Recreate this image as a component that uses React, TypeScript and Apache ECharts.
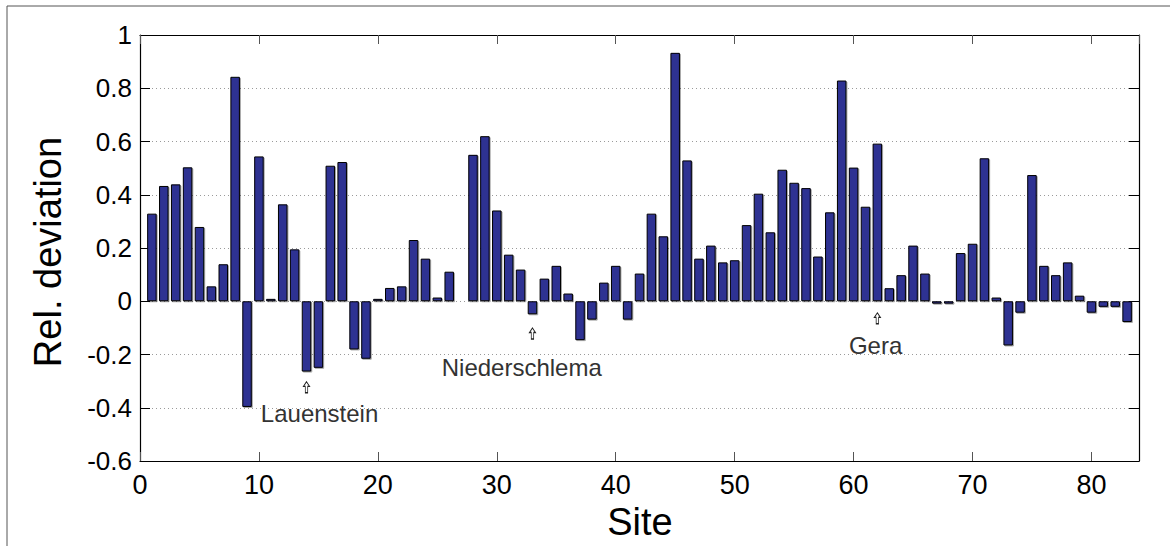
import React, { useEffect, useRef } from "react";
import * as echarts from "echarts";

// Relative deviation per monitoring site (sites 1..83)
const sites: number[] = Array.from({ length: 83 }, (_, i) => i + 1);
const deviations: number[] = [
  0.329, 0.433, 0.439, 0.503, 0.279, 0.056, 0.139, 0.843, -0.397, 0.544,
  0.009, 0.364, 0.195, -0.264, -0.25, 0.509, 0.523, -0.181, -0.216, 0.009,
  0.05, 0.056, 0.23, 0.16, 0.014, 0.111, 0.002, 0.55, 0.62, 0.341,
  0.175, 0.119, -0.049, 0.085, 0.133, 0.029, -0.146, -0.069, 0.07, 0.133,
  -0.069, 0.104, 0.329, 0.244, 0.933, 0.529, 0.16, 0.209, 0.146, 0.154,
  0.286, 0.404, 0.259, 0.494, 0.445, 0.425, 0.168, 0.334, 0.829, 0.502,
  0.355, 0.592, 0.049, 0.098, 0.209, 0.104, -0.009, -0.009, 0.181, 0.216,
  0.537, 0.014, -0.166, -0.043, 0.474, 0.133, 0.098, 0.146, 0.021, -0.043,
  -0.021, -0.021, -0.078,
];

// Named sites marked with an arrow under the bar
const markedNames: string[] = ["Lauenstein", "Niederschlema", "Gera"];
const markedSites: number[] = [14, 33, 62];
const arrowLevels: number[] = [-0.323, -0.121, -0.064];
const labelSites: number[] = [15.1, 32.1, 61.85];
const labelLevels: number[] = [-0.423, -0.248, -0.168];

const xTicks = { min: 0, max: 84, interval: 10 };
const yTicks = { min: -0.6, max: 1, interval: 0.2 };

const ARROW =
  "path://M5,0 L10,5 L7,5 L7,12 L3,12 L3,5 L0,5 Z";

export default function App() {
  const ref = useRef<HTMLDivElement>(null);

  useEffect(() => {
    if (!ref.current) return;
    const chart = echarts.init(ref.current, undefined, { renderer: "svg" });
    const font = "Liberation Sans, Arial, Helvetica, sans-serif";

    const arrowPoints = markedSites.map((s, i) => ({
      coord: [s, arrowLevels[i]],
      symbol: ARROW,
      symbolSize: [6, 11],
      itemStyle: { color: "#ffffff", borderColor: "#222222", borderWidth: 1 },
      label: { show: false },
    }));
    const labelPoints = markedNames.map((n, i) => ({
      name: n,
      coord: [labelSites[i], labelLevels[i]],
      symbol: "circle",
      symbolSize: 0,
      itemStyle: { color: "transparent" },
      label: {
        show: true,
        position: "inside",
        formatter: n,
        fontFamily: font,
        fontSize: 24,
        color: "#333333",
      },
    }));

    chart.setOption({
      animation: false,
      backgroundColor: "#ffffff",
      grid: { left: 140, right: 31, top: 35, bottom: 85, containLabel: false },
      xAxis: [
        {
          type: "value",
          ...xTicks,
          position: "bottom",
          axisLine: { show: true, onZero: false, lineStyle: { color: "#000", width: 1.2 } },
          axisTick: { show: true, inside: true, length: 9, lineStyle: { color: "#555" } },
          axisLabel: {
            fontFamily: font,
            fontSize: 27,
            color: "#000",
            margin: 10,
            showMaxLabel: false,
          },
          splitLine: { show: false },
        },
        {
          type: "value",
          ...xTicks,
          position: "top",
          axisLine: { show: true, onZero: false, lineStyle: { color: "#000", width: 1.2 } },
          axisTick: { show: true, inside: true, length: 9, lineStyle: { color: "#555" } },
          axisLabel: { show: false },
          splitLine: { show: false },
        },
      ],
      yAxis: [
        {
          type: "value",
          ...yTicks,
          position: "left",
          axisLine: { show: true, onZero: false, lineStyle: { color: "#000", width: 1.2 } },
          axisTick: { show: true, inside: true, length: 10, lineStyle: { color: "#000" } },
          axisLabel: {
            fontFamily: font,
            fontSize: 26,
            color: "#000",
            margin: 8,
            formatter: (v: number) => String(Math.round(v * 10) / 10),
          },
          splitLine: {
            show: true,
            lineStyle: { color: "#9a9a9a", type: [1, 3], width: 1 },
          },
        },
        {
          type: "value",
          ...yTicks,
          position: "right",
          axisLine: { show: true, onZero: false, lineStyle: { color: "#000", width: 1.2 } },
          axisTick: { show: true, inside: true, length: 10, lineStyle: { color: "#000" } },
          axisLabel: { show: false },
          splitLine: { show: false },
        },
      ],
      series: [
        {
          type: "bar",
          xAxisIndex: 0,
          yAxisIndex: 0,
          barWidth: 9.5,
          data: sites.map((s, i) => [s, deviations[i]]),
          itemStyle: {
            color: "#2E3192",
            borderColor: "#000000",
            borderWidth: 1,
            shadowColor: "rgba(0,0,0,0.35)",
            shadowBlur: 1,
            shadowOffsetX: 1,
            shadowOffsetY: 1,
          },
          markPoint: {
            silent: true,
            data: [...arrowPoints, ...labelPoints],
          },
        },
      ],
      graphic: [
        {
          type: "line",
          shape: { x1: 7, y1: 6, x2: 1170, y2: 6 },
          style: { stroke: "#555", lineWidth: 1 },
        },
        {
          type: "line",
          shape: { x1: 7, y1: 6, x2: 7, y2: 546 },
          style: { stroke: "#555", lineWidth: 1 },
        },
        {
          type: "text",
          x: 640,
          y: 522,
          style: {
            text: "Site",
            fontFamily: font,
            fontSize: 38,
            fill: "#000",
            textAlign: "center",
            textVerticalAlign: "middle",
          },
        },
        {
          type: "text",
          x: 48,
          y: 252,
          rotation: Math.PI / 2,
          style: {
            text: "Rel. deviation",
            fontFamily: font,
            fontSize: 38,
            fill: "#000",
            textAlign: "center",
            textVerticalAlign: "middle",
          },
        },
      ],
    });

    return () => chart.dispose();
  }, []);

  return (
    <div
      ref={ref}
      style={{ position: "absolute", left: 0, top: 0, width: 1170, height: 546 }}
    />
  );
}
